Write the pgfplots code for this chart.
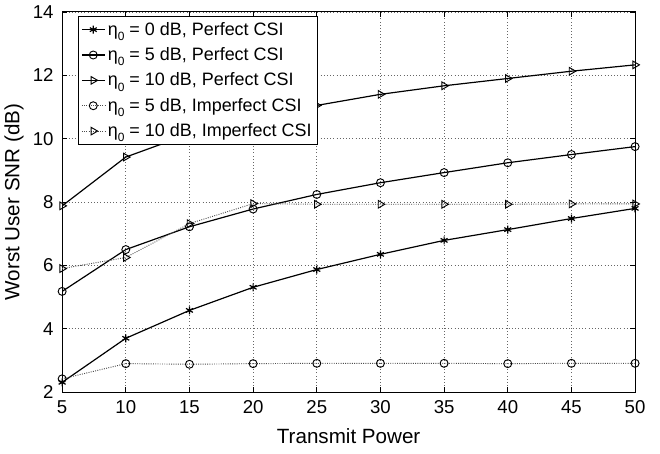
\documentclass[border=0pt]{standalone}
\usepackage{pgfplots}
\pgfplotsset{compat=1.18}
\usepackage{fontspec}
\setmainfont{Liberation Sans}
\newcommand{\etz}{η\raisebox{-0.55ex}{\fontsize{9}{10}\selectfont 0}}
\begin{document}
\begin{tikzpicture}
\begin{axis}[
  width=431pt, height=286pt, scale only axis,
  xmin=5, xmax=50, ymin=2, ymax=14,
  xtick={5,10,...,50}, ytick={2,4,...,14},
  tick align=inside, tick pos=both,
  major tick length=4pt,
  grid=major,
  major grid style={dotted, black!60, line width=0.6pt},
  axis line style={line width=0.8pt},
  tick style={black, line width=0.6pt},
  /pgf/number format/assume math mode=true,
  ticklabel style={font=\fontsize{14}{16}\selectfont},
  xticklabel style={yshift=-3pt},
  yticklabel style={xshift=-3pt},
  label style={font=\fontsize{15.5}{18}\selectfont},
  xlabel={Transmit Power},
  ylabel={Worst User SNR (dB)},
  xlabel style={yshift=-4pt},
  ylabel style={yshift=0pt},
  legend style={at={(0.027,0.99)}, anchor=north west, draw=black, line width=0.6pt,
    font=\fontsize{13.5}{15}\selectfont, row sep=3.8pt, inner sep=2.5pt, fill=white},
  legend cell align=left,
]
\addplot[black, line width=0.9pt, mark=asterisk, mark size=3pt, mark options={solid}] coordinates {
(5,2.31) (10,3.70) (15,4.58) (20,5.31) (25,5.87) (30,6.35) (35,6.79) (40,7.13) (45,7.48) (50,7.80)};
\addlegendentry{\etz{} = 0 dB, Perfect CSI}
\addplot[black, line width=0.9pt, mark=o, mark size=3pt, mark options={solid, line width=0.7pt}] coordinates {
(5,5.18) (10,6.50) (15,7.22) (20,7.78) (25,8.24) (30,8.61) (35,8.93) (40,9.24) (45,9.50) (50,9.75)};
\addlegendentry{\etz{} = 5 dB, Perfect CSI}
\addplot[black, line width=0.9pt, mark=triangle, mark size=3.3pt, mark options={solid, rotate=-90, line width=0.7pt}] coordinates {
(5,7.88) (10,9.42) (15,10.15) (20,10.65) (25,11.05) (30,11.40) (35,11.67) (40,11.90) (45,12.13) (50,12.33)};
\addlegendentry{\etz{} = 10 dB, Perfect CSI}
\addplot[black!70, densely dotted, line width=0.7pt, mark=o, mark size=3pt, mark options={solid, black, line width=0.7pt}] coordinates {
(5,2.42) (10,2.90) (15,2.88) (20,2.90) (25,2.91) (30,2.91) (35,2.91) (40,2.90) (45,2.91) (50,2.91)};
\addlegendentry{\etz{} = 5 dB, Imperfect CSI}
\addplot[black!70, densely dotted, line width=0.7pt, mark=triangle, mark size=3.3pt, mark options={solid, black, rotate=-90, line width=0.7pt}] coordinates {
(5,5.90) (10,6.25) (15,7.32) (20,7.95) (25,7.93) (30,7.93) (35,7.93) (40,7.93) (45,7.94) (50,7.94)};
\addlegendentry{\etz{} = 10 dB, Imperfect CSI}
\end{axis}
\path (current axis.south west) ++(-45pt,-46.5pt);
\path (current axis.north east) ++(18.75pt,9pt);
\end{tikzpicture}
\end{document}
